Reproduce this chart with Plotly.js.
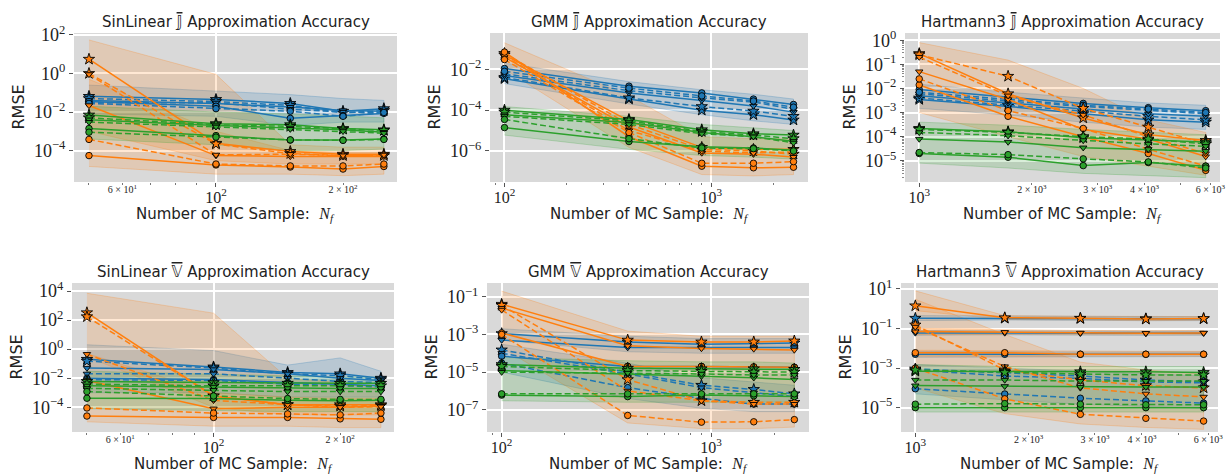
<!DOCTYPE html>
<html><head><meta charset="utf-8">
<script src="https://cdn.plot.ly/plotly-3.0.1.min.js"></script>
<style>html,body{margin:0;padding:0;background:#fff}#chart{width:1228px;height:475px}</style>
</head><body><div id="chart"></div>
<script>
// ---------- x values (Monte Carlo sample sizes) ----------
const X_SIN  = [50, 100, 150, 200, 250];
const X_GMM  = [100, 400, 900, 1600, 2500];
const X_HART = [1000, 1728, 2744, 4096, 5832];

// rows: star solid, star dashed, triangle solid, triangle dashed, circle solid, circle dashed
// ---- SinLinear J ----
const sinJ_blue = [
 [0.065, 0.045, 0.028, 0.011, 0.015],
 [0.05, 0.035, 0.022, 0.009, 0.012],
 [0.04, 0.028, 0.018, 0.012, 0.011],
 [0.03, 0.03, 0.014, 0.01, 0.009],
 [0.035, 0.02, 0.0047, 0.0065, 0.0085],
 [0.028, 0.015, 0.011, 0.006, 0.0095]];
const sinJ_orange = [
 [5.5, 2.4e-4, 9e-5, 6.5e-5, 6.5e-5],
 [1.0, 2.2e-4, 7e-5, 5.5e-5, 5.5e-5],
 [0.022, 5.5e-5, 5e-5, 4.8e-5, 5e-5],
 [0.9, 6e-5, 6.5e-5, 5.5e-5, 6e-5],
 [5.5e-5, 1.8e-5, 1.4e-5, 1.1e-5, 1.5e-5],
 [3.8e-4, 2.0e-5, 1.6e-5, 1.6e-5, 2.0e-5]];
const sinJ_green = [
 [7e-3, 2.5e-3, 2.2e-3, 1.4e-3, 1.2e-3],
 [5e-3, 2.2e-3, 1.8e-3, 1.3e-3, 1.1e-3],
 [4e-3, 2e-3, 1.5e-3, 1.2e-3, 9e-4],
 [3e-3, 1.7e-3, 1.3e-3, 1.0e-3, 8e-4],
 [1.4e-3, 6e-4, 3.5e-4, 3.5e-4, 4e-4],
 [9e-4, 5e-4, 3.6e-4, 3.4e-4, 3.8e-4]];
// bands: pairs of rows [low, high]
const sinJ_blue_band = [[0.008, 0.006, 0.002, 0.003, 0.003], [0.25, 0.12, 0.08, 0.05, 0.04]];
const sinJ_orange_band = [[1e-3, 3e-5, 2e-5, 2e-5, 2e-5], [55, 0.9, 2e-4, 1.5e-4, 1.5e-4],
                          [1.5e-5, 6e-6, 6e-6, 5e-6, 6e-6], [0.5, 1e-3, 1e-4, 8e-5, 8e-5]];
const sinJ_green_band = [[4e-4, 2e-4, 1e-4, 1e-4, 1.2e-4], [0.02, 0.01, 0.008, 0.006, 0.005]];

// ---- GMM J ----
const gmmJ_blue = [
 [3.5e-3, 3.5e-4, 1e-4, 6e-5, 3.3e-5],
 [4e-3, 4e-4, 1.5e-4, 9e-5, 5e-5],
 [5e-3, 7e-4, 3e-4, 1.6e-4, 8e-5],
 [6e-3, 9e-4, 4e-4, 2.5e-4, 1.1e-4],
 [0.011, 1.5e-3, 7e-4, 3.5e-4, 1.9e-4],
 [8e-3, 1.2e-3, 5e-4, 2.8e-4, 1.4e-4]];
const gmmJ_orange = [
 [0.05, 3e-5, 1.5e-6, 1.2e-6, 1.2e-6],
 [0.06, 2e-5, 1.2e-6, 1e-6, 7e-7],
 [0.04, 1.5e-5, 8e-7, 7e-7, 5e-7],
 [0.045, 1e-5, 1e-6, 8e-7, 9e-7],
 [0.07, 5e-6, 1.8e-7, 1.5e-7, 1.6e-7],
 [0.03, 8e-6, 2.5e-7, 2.5e-7, 3e-7]];
const gmmJ_green = [
 [1e-4, 3.5e-5, 1.1e-5, 7e-6, 6e-6],
 [8e-5, 3e-5, 9e-6, 6e-6, 4e-6],
 [6e-5, 2.5e-5, 8e-6, 5e-6, 3e-6],
 [5e-5, 2e-5, 7e-6, 5e-6, 2.5e-6],
 [1.4e-5, 2.9e-6, 1.6e-6, 1.4e-6, 1.1e-6],
 [3.5e-5, 4e-6, 1.4e-6, 1.3e-6, 1.0e-6]];
const gmmJ_blue_band = [[2e-3, 2e-4, 6e-5, 3e-5, 2e-5], [0.02, 2.5e-3, 1e-3, 6e-4, 3.5e-4]];
const gmmJ_orange_band = [[0.01, 1.5e-6, 7e-8, 6e-8, 7e-8], [0.2, 5e-4, 5e-6, 4e-6, 4e-6]];
const gmmJ_green_band = [[6e-6, 1.2e-6, 6e-7, 5e-7, 4e-7], [1.5e-4, 5e-5, 2e-5, 1.3e-5, 1e-5]];

// ---- Hartmann3 J ----
const hartJ_blue = [
 [3.5e-3, 1.8e-3, 9e-4, 5e-4, 4e-4],
 [4e-3, 2e-3, 1.1e-3, 7e-4, 5e-4],
 [5e-3, 2.5e-3, 1.4e-3, 9e-4, 7e-4],
 [6e-3, 3e-3, 1.8e-3, 1.2e-3, 9e-4],
 [9e-3, 4.5e-3, 2.4e-3, 1.6e-3, 1.2e-3],
 [7e-3, 3.5e-3, 2e-3, 1.4e-3, 1.0e-3]];
const hartJ_orange = [
 [0.28, 6e-3, 6e-4, 1.2e-4, 7e-5],
 [0.25, 0.032, 1.5e-3, 2.5e-4, 5e-5],
 [0.05, 3.5e-3, 2e-4, 8e-5, 1.5e-5],
 [0.2, 5e-3, 8e-4, 1e-4, 2e-5],
 [0.014, 7e-4, 1e-4, 2e-5, 4e-6],
 [0.025, 1.2e-3, 2.2e-4, 3e-5, 6e-6]];
const hartJ_green = [
 [2.2e-4, 1.6e-4, 9e-5, 7e-5, 6e-5],
 [2e-4, 1.5e-4, 1e-4, 8e-5, 5e-5],
 [8e-5, 6e-5, 3.5e-5, 3e-5, 2.5e-5],
 [1.5e-4, 1.1e-4, 7e-5, 5e-5, 4e-5],
 [2e-5, 1.4e-5, 6.3e-6, 8.5e-6, 6e-6],
 [2.2e-5, 1.8e-5, 1.2e-5, 9e-6, 5e-6]];
const hartJ_blue_band = [[1.5e-3, 8e-4, 4e-4, 2.5e-4, 2e-4], [0.015, 7e-3, 4e-3, 2.5e-3, 2e-3]];
const hartJ_orange_band = [[1e-3, 1e-4, 1.5e-5, 6e-6, 2.5e-6], [0.8, 0.15, 0.01, 5e-4, 1.5e-4]];
const hartJ_green_band = [[8e-6, 5e-6, 3e-6, 2.5e-6, 2e-6], [4e-4, 3e-4, 2e-4, 1.5e-4, 1.2e-4]];

// ---- SinLinear V ----
const sinV_blue = [
 [0.2, 0.06, 0.025, 0.02, 0.01],
 [0.15, 0.05, 0.02, 0.015, 0.008],
 [0.05, 0.04, 0.02, 0.01, 0.007],
 [0.02, 0.02, 0.01, 0.006, 0.005],
 [0.01, 0.008, 0.005, 0.004, 0.003],
 [0.008, 0.007, 0.004, 0.003, 0.0025]];
const sinV_orange = [
 [320, 6e-4, 1.5e-4, 1.5e-4, 1.5e-4],
 [170, 6e-4, 1.5e-4, 1.2e-4, 1.3e-4],
 [7e-3, 8e-5, 1e-4, 1e-4, 1.2e-4],
 [0.45, 3e-4, 1.5e-4, 1e-4, 1.1e-4],
 [2.5e-5, 2e-5, 2e-5, 1.6e-5, 1.5e-5],
 [9e-5, 4e-5, 3.5e-5, 3e-5, 4e-5]];
const sinV_green = [
 [6e-3, 5e-3, 4.5e-3, 4.5e-3, 4.5e-3],
 [4e-3, 3e-3, 3e-3, 3e-3, 3e-3],
 [3e-3, 2.5e-3, 2e-3, 2e-3, 2e-3],
 [2e-3, 1.5e-3, 1.2e-3, 1.2e-3, 1.2e-3],
 [4.2e-4, 4e-4, 3e-4, 2.8e-4, 3e-4],
 [1.2e-3, 6e-4, 4e-4, 3.5e-4, 3.5e-4]];
const sinV_blue_band = [[1e-3, 1e-3, 5e-4, 5e-4, 5e-4], [2, 0.8, 0.08, 0.25, 0.03]];
const sinV_orange_band = [[0.3, 1e-4, 3e-5, 3e-5, 3e-5], [7000, 300, 0.01, 5e-3, 2e-3],
                          [1e-5, 5e-6, 5e-6, 4e-6, 4e-6], [0.5, 1e-3, 5e-4, 4e-4, 4e-4]];
const sinV_green_band = [[8e-5, 6e-5, 5e-5, 5e-5, 5e-5], [0.03, 0.02, 0.015, 0.012, 0.012]];

// ---- GMM V ----
const gmmV_blue = [
 [1.1e-3, 4e-4, 3e-4, 3.2e-4, 3.5e-4],
 [1.5e-4, 1e-5, 2e-6, 1.2e-6, 7e-7],
 [5e-4, 2e-4, 2e-4, 2e-4, 2e-4],
 [1e-4, 8e-6, 1.5e-6, 8e-7, 5e-7],
 [7e-5, 2e-5, 2e-5, 1.8e-5, 1.8e-5],
 [3e-5, 1.5e-6, 4e-7, 2e-7, 2e-7]];
const gmmV_orange = [
 [0.04, 5e-4, 4e-4, 4e-4, 4.5e-4],
 [0.035, 4e-6, 3e-7, 2.5e-7, 2.5e-7],
 [0.025, 2.5e-4, 1.8e-4, 1.7e-4, 1.5e-4],
 [0.02, 1e-6, 3e-7, 2e-7, 2e-7],
 [1.2e-3, 2e-5, 2e-5, 1.9e-5, 1.8e-5],
 [1e-3, 5e-8, 2.2e-8, 2.3e-8, 3e-8]];
const gmmV_green = [
 [2.5e-5, 1.6e-5, 1.5e-5, 1.5e-5, 1.4e-5],
 [2e-5, 1.2e-5, 1.1e-5, 1e-5, 1e-5],
 [1.2e-5, 8e-6, 6e-6, 5e-6, 4e-6],
 [1e-5, 9e-6, 8e-6, 7e-6, 7e-6],
 [6e-7, 5e-7, 6e-7, 5.5e-7, 5e-7],
 [7e-7, 7e-7, 7e-7, 7e-7, 7e-7]];
const gmmV_blue_band = [[5e-4, 1.2e-4, 1e-4, 1e-4, 1e-4], [2e-3, 8e-4, 6e-4, 6e-4, 6e-4],
                        [1e-5, 4e-7, 1.2e-7, 8e-8, 8e-8], [3e-4, 3e-5, 5e-6, 3e-6, 2e-6]];
const gmmV_orange_band = [[2e-4, 2e-8, 1e-8, 1e-8, 1.2e-8], [0.2, 1.5e-3, 8e-4, 8e-4, 8e-4]];
const gmmV_green_band = [[3e-7, 2.5e-7, 2.5e-7, 2.5e-7, 2.5e-7], [6e-5, 4e-5, 3.5e-5, 3.5e-5, 3e-5]];

// ---- Hartmann3 V ----
const hartV_blue = [
 [0.33, 0.33, 0.32, 0.31, 0.31],
 [9e-4, 6e-4, 4e-4, 2.5e-4, 2e-4],
 [0.06, 0.06, 0.058, 0.056, 0.058],
 [8e-4, 4e-4, 3e-4, 2e-4, 1.8e-4],
 [5e-3, 5e-3, 5e-3, 5e-3, 5e-3],
 [9e-5, 4.9e-5, 3e-5, 2.2e-5, 1.7e-5]];
const hartV_orange = [
 [1.4, 0.35, 0.33, 0.3, 0.32],
 [0.15, 8e-4, 2.5e-4, 1.3e-4, 1e-4],
 [0.07, 0.065, 0.06, 0.058, 0.06],
 [0.12, 1.2e-3, 1e-4, 5e-5, 3.5e-5],
 [6e-3, 6e-3, 5e-3, 5e-3, 5e-3],
 [1e-3, 2.8e-5, 4.6e-6, 2.9e-6, 2.1e-6]];
const hartV_green = [
 [7e-4, 7e-4, 6.5e-4, 6.5e-4, 6e-4],
 [8e-4, 6e-4, 5e-4, 4.5e-4, 4.5e-4],
 [1.3e-4, 1.2e-4, 1.1e-4, 1.1e-4, 1.1e-4],
 [2.5e-4, 2.5e-4, 2.2e-4, 2.2e-4, 2.2e-4],
 [1e-5, 1e-5, 1e-5, 1e-5, 1e-5],
 [1.5e-5, 1.6e-5, 1.5e-5, 1.4e-5, 1.4e-5]];
const hartV_blue_band = [
 [0.25, 0.27, 0.26, 0.25, 0.25], [0.45, 0.42, 0.4, 0.4, 0.4],
 [0.045, 0.048, 0.047, 0.045, 0.046], [0.08, 0.075, 0.072, 0.07, 0.072],
 [3.5e-3, 3.8e-3, 3.8e-3, 3.8e-3, 3.8e-3], [7e-3, 6.5e-3, 6.5e-3, 6.5e-3, 6.5e-3],
 [5e-5, 2.5e-5, 1.5e-5, 1.1e-5, 9e-6], [1.5e-3, 1e-3, 7e-4, 5e-4, 4e-4]];
const hartV_orange_band = [
 [1e-4, 5e-6, 1.5e-6, 1e-6, 8e-7], [3, 0.05, 2e-3, 8e-4, 5e-4],
 [0.8, 0.28, 0.27, 0.25, 0.26], [8, 0.45, 0.42, 0.4, 0.4],
 [0.05, 0.05, 0.048, 0.047, 0.048], [0.1, 0.085, 0.08, 0.078, 0.08],
 [4e-3, 4e-3, 4e-3, 4e-3, 4e-3], [8e-3, 7.5e-3, 7e-3, 7e-3, 7e-3]];
const hartV_green_band = [[6e-6, 6e-6, 6e-6, 6e-6, 6e-6], [1.5e-3, 1.2e-3, 1.2e-3, 1.2e-3, 1.2e-3]];

// ---------- styles ----------
const SYMBOLS = ['star', 'star', 'triangle-down', 'triangle-down', 'circle', 'circle'];
const DASHES = ['solid', '6px,3px', 'solid', '6px,3px', 'solid', '6px,3px'];
const COLORS = {blue: '#1f77b4', orange: '#ff7f0e', green: '#2ca02c'};
const RGB = {blue: '31,119,180', orange: '255,127,14', green: '44,160,44'};
const MSIZE = {'star': 8.5, 'triangle-down': 6.5, 'circle': 6.5};
const ORDER = ['blue', 'orange', 'green'];

const W = 1228, H = 475;
const SANS = 'DejaVu Sans', SERIF = 'Liberation Serif';

const PANELS = [
 {xs: X_SIN, s: {blue: sinJ_blue, orange: sinJ_orange, green: sinJ_green},
  b: {blue: sinJ_blue_band, orange: sinJ_orange_band, green: sinJ_green_band},
  box: [74, 397, 33, 182], xr: [1.6635, 2.429], yr: [-5.63, 2.1],
  yMajor: [1e2, 1, 1e-2, 1e-4], yMinor: [],
  xMajor: [100], xLab: [[6, 1], [2, 2]], xMinor: [50, 60, 70, 80, 90, 200],
  name: 'SinLinear', sym: '𝕁'},
 {xs: X_GMM, s: {blue: gmmJ_blue, orange: gmmJ_orange, green: gmmJ_green},
  b: {blue: gmmJ_blue_band, orange: gmmJ_orange_band, green: gmmJ_green_band},
  box: [490, 808, 33, 182], xr: [1.930, 3.468], yr: [-7.52, -0.22],
  yMajor: [1e-2, 1e-4, 1e-6], yMinor: [],
  xMajor: [100, 1000], xLab: [], xMinor: [90, 200, 300, 400, 500, 600, 700, 800, 900, 2000],
  name: 'GMM', sym: '𝕁'},
 {xs: X_HART, s: {blue: hartJ_blue, orange: hartJ_orange, green: hartJ_green},
  b: {blue: hartJ_blue_band, orange: hartJ_orange_band, green: hartJ_green_band},
  box: [905, 1220, 33, 182], xr: [2.962, 3.804], yr: [-5.88, 0.30],
  yMajor: [1, 1e-1, 1e-2, 1e-3, 1e-4, 1e-5], yMinor: 'subs',
  xMajor: [1000], xLab: [[2, 3], [3, 3], [4, 3], [6, 3]], xMinor: [2000, 3000, 4000, 5000, 6000],
  name: 'Hartmann3', sym: '𝕁'},
 {xs: X_SIN, s: {blue: sinV_blue, orange: sinV_orange, green: sinV_green},
  b: {blue: sinV_blue_band, orange: sinV_orange_band, green: sinV_green_band},
  box: [72, 394, 283, 432], xr: [1.6635, 2.429], yr: [-5.70, 4.55],
  yMajor: [1e4, 1e2, 1, 1e-2, 1e-4], yMinor: [],
  xMajor: [100], xLab: [[6, 1], [2, 2]], xMinor: [50, 60, 70, 80, 90, 200],
  name: 'SinLinear', sym: '𝕍'},
 {xs: X_GMM, s: {blue: gmmV_blue, orange: gmmV_orange, green: gmmV_green},
  b: {blue: gmmV_blue_band, orange: gmmV_orange_band, green: gmmV_green_band},
  box: [487, 809, 283, 432], xr: [1.930, 3.468], yr: [-8.18, -0.27],
  yMajor: [1e-1, 1e-3, 1e-5, 1e-7], yMinor: [],
  xMajor: [100, 1000], xLab: [], xMinor: [90, 200, 300, 400, 500, 600, 700, 800, 900, 2000],
  name: 'GMM', sym: '𝕍'},
 {xs: X_HART, s: {blue: hartV_blue, orange: hartV_orange, green: hartV_green},
  b: {blue: hartV_blue_band, orange: hartV_orange_band, green: hartV_green_band},
  box: [901, 1218, 283, 432], xr: [2.962, 3.804], yr: [-6.23, 1.30],
  yMajor: [10, 1e-1, 1e-3, 1e-5], yMinor: [],
  xMajor: [1000], xLab: [[2, 3], [3, 3], [4, 3], [6, 3]], xMinor: [2000, 3000, 4000, 5000, 6000],
  name: 'Hartmann3', sym: '𝕍'}
];

function pow10Label(v) {
  const e = Math.round(Math.log10(v));
  return '10<sup>' + (e < 0 ? '\u2212' + (-e) : e) + '</sup>';
}

const traces = [];
const layout = {
  width: W, height: H, margin: {l: 0, r: 0, t: 0, b: 0},
  paper_bgcolor: '#ffffff', plot_bgcolor: '#d9d9d9', showlegend: false,
  annotations: []
};

PANELS.forEach((p, i) => {
  const k = i + 1;
  const xr = k === 1 ? 'x' : 'x' + k, yr = k === 1 ? 'y' : 'y' + k;
  const xk = k === 1 ? 'xaxis' : 'xaxis' + k, yk = k === 1 ? 'yaxis' : 'yaxis' + k;
  const [x0, x1, y0, y1] = p.box;

  // bands
  ORDER.forEach(c => {
    const rows = p.b[c];
    for (let j = 0; j < rows.length; j += 2) {
      const lo = rows[j], hi = rows[j + 1];
      traces.push({
        type: 'scatter', xaxis: xr, yaxis: yr, hoverinfo: 'skip',
        x: p.xs.concat(p.xs.slice().reverse()),
        y: hi.concat(lo.slice().reverse()),
        mode: 'lines', fill: 'toself',
        fillcolor: 'rgba(' + RGB[c] + ',0.18)',
        line: {color: 'rgba(' + RGB[c] + ',0.3)', width: 0.8}
      });
    }
  });
  // lines
  ORDER.forEach(c => {
    p.s[c].forEach((ys, j) => {
      traces.push({
        type: 'scatter', xaxis: xr, yaxis: yr, hoverinfo: 'skip',
        x: p.xs, y: ys, mode: 'lines+markers',
        line: {color: COLORS[c], width: 1.5, dash: DASHES[j]},
        marker: {symbol: SYMBOLS[j], size: MSIZE[SYMBOLS[j]], color: COLORS[c],
                 line: {color: '#000', width: 0.9}}
      });
    });
  });

  let yMinorVals = p.yMinor;
  if (p.yMinor === 'subs') {
    yMinorVals = [];
    for (let e = -6; e <= 0; e++) for (let m = 2; m <= 9; m++) yMinorVals.push(m * Math.pow(10, e));
  }

  layout[xk] = {
    type: 'log', domain: [x0 / W, x1 / W], range: p.xr, anchor: yr,
    tickmode: 'array', tickvals: p.xMajor, ticktext: p.xMajor.map(pow10Label),
    ticks: 'outside', ticklen: 3.5, tickwidth: 1, tickcolor: '#555', ticklabelstandoff: -3,
    showgrid: true, gridcolor: '#ffffff', gridwidth: 2, zeroline: false, showline: false,
    tickfont: {family: SERIF, size: 16, color: '#222'},
    minor: {tickmode: 'array', tickvals: p.xMinor, ticks: 'outside', ticklen: 2, tickwidth: 0.8,
            tickcolor: '#555', showgrid: false}
  };
  layout[yk] = {
    type: 'log', domain: [1 - y1 / H, 1 - y0 / H], range: p.yr, anchor: xr,
    tickmode: 'array', tickvals: p.yMajor, ticktext: p.yMajor.map(pow10Label),
    ticks: 'outside', ticklen: 4, tickwidth: 1, tickcolor: '#555',
    showgrid: true, gridcolor: '#ffffff', gridwidth: 2, zeroline: false, showline: false,
    tickfont: {family: SERIF, size: 18, color: '#222'},
    minor: {tickmode: 'array', tickvals: yMinorVals, ticks: 'outside', ticklen: 2, tickwidth: 0.7,
            tickcolor: '#555', showgrid: false}
  };
  // overlay axis for labelled minor x ticks
  if (p.xLab.length) {
    const oid = 6 + k;
    layout['xaxis' + oid] = {
      type: 'log', overlaying: xr, anchor: yr, range: p.xr, side: 'bottom',
      tickmode: 'array', tickvals: p.xLab.map(a => a[0] * Math.pow(10, a[1])),
      ticktext: p.xLab.map(a => a[0] + ' \u00d7 10<sup>' + a[1] + '</sup>'),
      ticks: '', showgrid: false, zeroline: false, showline: false,
      tickfont: {family: SERIF, size: 10, color: '#222'}
    };
    // an empty helper trace so the overlay axis is drawn
    traces.push({type: 'scatter', xaxis: 'x' + oid, yaxis: yr, hoverinfo: 'skip',
                 x: p.xs, y: p.xs.map(() => null), mode: 'markers', marker: {opacity: 0}});
  }

  const cx = (x0 + x1) / 2 / W;
  layout.annotations.push({
    xref: 'paper', yref: 'paper', x: cx, y: 1 - (y0 - 11) / H, xanchor: 'center', yanchor: 'middle',
    showarrow: false, font: {family: SANS, size: 15, color: '#222'},
    text: p.name + ' <span style="text-decoration:overline">' + p.sym + '</span> Approximation Accuracy'
  });
  layout.annotations.push({
    xref: 'paper', yref: 'paper', x: cx, y: 1 - (y1 + 32) / H, xanchor: 'center', yanchor: 'middle',
    showarrow: false, font: {family: SANS, size: 15, color: '#222'},
    text: 'Number of MC Sample:  <span style="font-family:\'Liberation Serif\';font-size:16px"><i>N</i><sub><i>f</i></sub></span>'
  });
  layout.annotations.push({
    xref: 'paper', yref: 'paper', x: (x0 - 56) / W, y: 1 - (y0 + y1) / 2 / H, xanchor: 'center', yanchor: 'middle',
    showarrow: false, textangle: -90, font: {family: SANS, size: 16, color: '#222'}, text: 'RMSE'
  });
});

Plotly.newPlot('chart', traces, layout, {staticPlot: true, displayModeBar: false});
</script>
</body></html>
